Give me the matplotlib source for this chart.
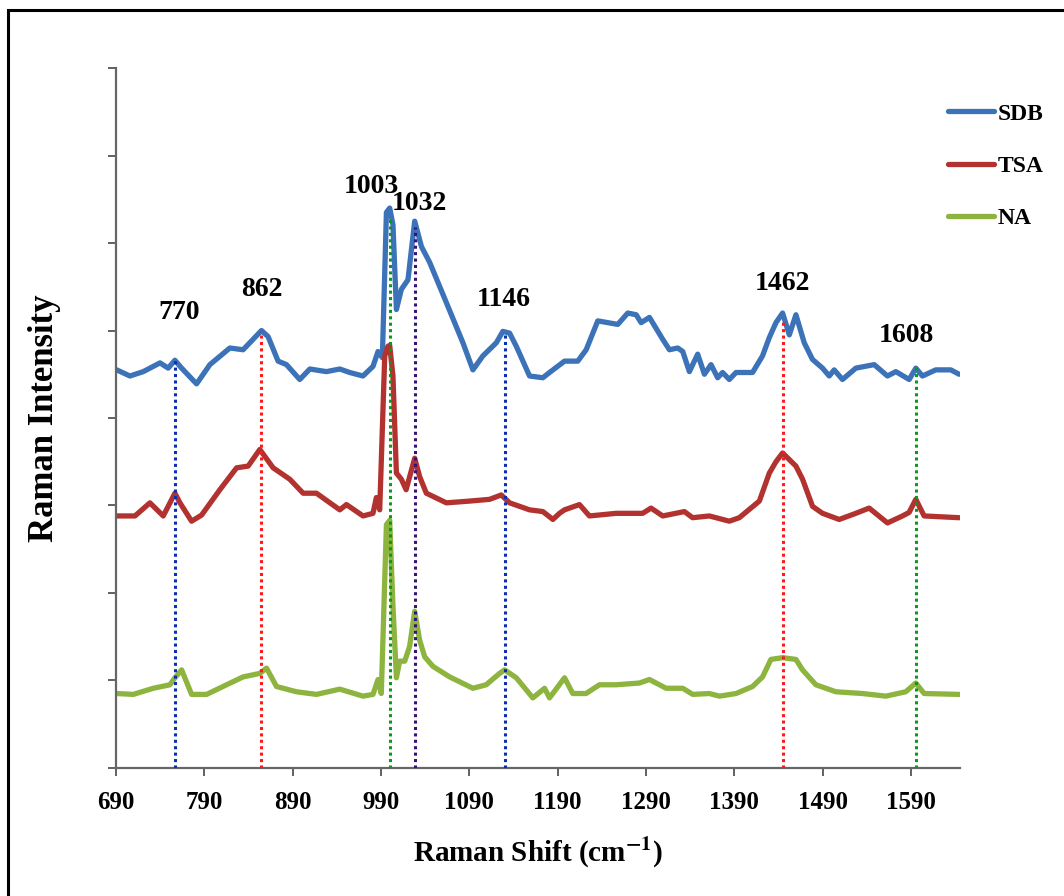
import matplotlib.pyplot as plt
from matplotlib.patches import Rectangle

plt.rcParams["font.family"] = ["Liberation Serif", "DejaVu Serif"]
plt.rcParams["font.weight"] = "bold"
plt.rcParams["mathtext.fontset"] = "stix"

# ---- spectra (Raman shift in cm-1, intensity in arbitrary offset units) ----
sdb_x = [690.8, 705.8, 720.9, 739.8, 749.1, 756.7, 764.3, 781.2, 796.3, 818.9,
         833.9, 854.7, 862.2, 873.5, 883.0, 898.0, 909.4, 928.2, 943.3, 954.6,
         969.6, 980.9, 986.6, 991.5, 996.1, 999.8, 1003.5, 1007.4, 1013.0, 1020.5,
         1028.1, 1035.7, 1045.0, 1063.9, 1082.7, 1094.0, 1105.3, 1120.5, 1127.9, 1135.5,
         1143.1, 1158.1, 1173.2, 1180.7, 1197.7, 1212.7, 1222.2, 1235.3, 1258.0, 1269.3,
         1278.8, 1284.4, 1293.8, 1308.8, 1316.4, 1325.8, 1331.5, 1339.0, 1348.4, 1356.0,
         1363.5, 1371.0, 1376.6, 1384.2, 1391.8, 1410.5, 1421.8, 1429.5, 1437.0, 1444.5,
         1452.1, 1459.6, 1469.0, 1478.3, 1489.7, 1497.3, 1502.9, 1512.3, 1527.4, 1548.2,
         1563.2, 1572.7, 1587.8, 1595.3, 1602.8, 1617.9, 1634.9, 1644.3]
sdb_y = [4.55, 4.48, 4.53, 4.63, 4.57, 4.66, 4.57, 4.39, 4.61, 4.80,
         4.78, 5.00, 4.93, 4.65, 4.61, 4.44, 4.56, 4.53, 4.56, 4.52,
         4.48, 4.59, 4.76, 4.69, 6.35, 6.40, 6.21, 5.24, 5.47, 5.58,
         6.25, 5.96, 5.78, 5.32, 4.86, 4.55, 4.71, 4.86, 4.99, 4.97,
         4.82, 4.48, 4.46, 4.52, 4.65, 4.65, 4.78, 5.11, 5.07, 5.20,
         5.18, 5.09, 5.15, 4.90, 4.78, 4.80, 4.76, 4.53, 4.73, 4.50,
         4.61, 4.46, 4.52, 4.44, 4.52, 4.52, 4.71, 4.92, 5.09, 5.20,
         4.95, 5.18, 4.86, 4.67, 4.57, 4.48, 4.55, 4.44, 4.57, 4.61,
         4.48, 4.53, 4.44, 4.57, 4.48, 4.55, 4.55, 4.50]

tsa_x = [690.8, 711.5, 728.4, 743.5, 756.7, 762.4, 775.6, 786.9, 807.6, 826.5,
         839.6, 852.8, 867.9, 886.7, 901.8, 916.9, 943.3, 950.9, 969.6, 980.9,
         984.7, 988.5, 994.2, 997.9, 999.8, 1003.5, 1007.4, 1013.0, 1018.4, 1028.1,
         1033.7, 1041.3, 1063.9, 1090.3, 1112.9, 1126.1, 1135.5, 1158.1, 1173.2, 1184.5,
         1192.0, 1197.7, 1214.6, 1225.9, 1256.1, 1286.1, 1295.6, 1308.8, 1333.4, 1342.6,
         1361.6, 1384.2, 1395.5, 1418.2, 1429.5, 1437.0, 1444.5, 1459.6, 1467.1, 1478.4,
         1489.7, 1508.6, 1527.4, 1542.5, 1563.2, 1580.2, 1587.7, 1595.3, 1604.7, 1644.3]
tsa_y = [2.88, 2.88, 3.03, 2.88, 3.14, 3.03, 2.82, 2.89, 3.18, 3.43,
         3.45, 3.64, 3.43, 3.30, 3.14, 3.14, 2.95, 3.01, 2.88, 2.91,
         3.09, 2.95, 4.71, 4.82, 4.83, 4.48, 3.37, 3.30, 3.18, 3.54,
         3.33, 3.14, 3.03, 3.05, 3.07, 3.12, 3.03, 2.95, 2.93, 2.84,
         2.91, 2.95, 3.01, 2.88, 2.91, 2.91, 2.97, 2.88, 2.93, 2.86,
         2.88, 2.82, 2.86, 3.05, 3.37, 3.50, 3.60, 3.45, 3.30, 2.99,
         2.91, 2.84, 2.91, 2.97, 2.80, 2.88, 2.92, 3.07, 2.88, 2.86]

na_x = [690.8, 709.6, 732.2, 751.1, 756.7, 764.3, 775.6, 792.6, 815.2, 833.9,
        852.8, 860.4, 871.7, 894.3, 916.9, 943.3, 969.6, 980.9, 986.6, 990.3,
        996.1, 999.8, 1003.5, 1007.4, 1011.1, 1016.8, 1022.4, 1028.1, 1033.7, 1039.4,
        1048.8, 1067.7, 1094.0, 1109.0, 1124.2, 1129.8, 1143.1, 1161.8, 1175.1, 1180.7,
        1197.7, 1207.0, 1222.1, 1237.2, 1256.1, 1282.5, 1293.8, 1312.7, 1331.5, 1342.8,
        1361.6, 1373.0, 1391.8, 1410.5, 1421.8, 1431.3, 1444.5, 1459.6, 1467.1, 1482.2,
        1504.8, 1534.9, 1561.3, 1583.9, 1595.3, 1604.7, 1644.3]
na_y = [0.85, 0.84, 0.91, 0.95, 1.03, 1.12, 0.84, 0.84, 0.95, 1.04,
        1.08, 1.14, 0.93, 0.87, 0.84, 0.90, 0.82, 0.84, 1.01, 0.85,
        2.78, 2.83, 1.85, 1.03, 1.22, 1.22, 1.39, 1.79, 1.46, 1.27,
        1.16, 1.04, 0.91, 0.95, 1.08, 1.12, 1.03, 0.80, 0.91, 0.80,
        1.03, 0.85, 0.85, 0.95, 0.95, 0.97, 1.01, 0.91, 0.91, 0.84,
        0.85, 0.82, 0.85, 0.93, 1.04, 1.24, 1.26, 1.24, 1.12, 0.95,
        0.87, 0.85, 0.82, 0.87, 0.97, 0.85, 0.84]

# ---- marked peaks ----
peak_labels = ["770", "862", "1003", "1032", "1146", "1462", "1608"]
peak_pos = [756.7, 854.0, 999.8, 1029.0, 1130.0, 1445.0, 1596.0]
peak_top = [4.67, 4.99, 6.27, 6.18, 4.98, 5.11, 4.58]
peak_colors = ["#0a2fb0", "#ff1a1a", "#0a9a1a", "#33127a", "#0a2fb0", "#ff1a1a", "#0a9a1a"]
label_xy = [(761, 5.21), (855, 5.47), (979, 6.65), (1034, 6.45),
            (1129, 5.35), (1444, 5.54), (1585, 4.94)]

xticks = [690, 790, 890, 990, 1090, 1190, 1290, 1390, 1490, 1590]

fig = plt.figure(figsize=(10.64, 8.96), dpi=100)
ax = fig.add_axes([0.109, 0.143, 0.793, 0.781])

style = dict(lw=3.8, solid_capstyle="round", solid_joinstyle="round")
ax.plot(sdb_x, sdb_y, color="#3c72b8", label="SDB", **style)
ax.plot(tsa_x, tsa_y, color="#b2322f", label="TSA", **style)
ax.plot(na_x, na_y, color="#8db43e", label="NA", **style)

for x, top, c in zip(peak_pos, peak_top, peak_colors):
    ax.plot([x, x], [0, top], color=c, lw=2.2, ls=(0, (1, 1.1)), zorder=4)
for lab, (tx, ty) in zip(peak_labels, label_xy):
    ax.text(tx, ty, lab, ha="center", va="center", fontsize=20, fontweight="bold")

ax.set_xlim(690, 1645)
ax.set_ylim(0, 8)
ax.set_xticks(xticks)
ax.set_yticks(range(0, 9))
ax.set_yticklabels([])
ax.tick_params(axis="x", labelsize=18, length=6, width=1.3, color="#555555", pad=11)
ax.tick_params(axis="y", length=6, width=1.3, color="#555555")
for s in ("top", "right"):
    ax.spines[s].set_visible(False)
for s in ("left", "bottom"):
    ax.spines[s].set_color("#666666")
    ax.spines[s].set_linewidth(1.6)

ax.set_xlabel(r"Raman Shift (cm$^{\mathbf{-1}}$)", fontsize=21, fontweight="bold", labelpad=14)
ax.set_ylabel("Raman Intensity", fontsize=25, fontweight="bold", labelpad=30)

ax.legend(loc="upper left", bbox_to_anchor=(0.891, 0.885), bbox_transform=fig.transFigure,
          frameon=False, fontsize=17, handlelength=1.95, handletextpad=0.15,
          labelspacing=1.3, borderpad=0, borderaxespad=0)

fig.patches.append(Rectangle((0.0075, -0.05), 1.2, 1.0388, transform=fig.transFigure,
                             fill=False, edgecolor="black", lw=2.2))

fig.savefig("out.png", dpi=100)
